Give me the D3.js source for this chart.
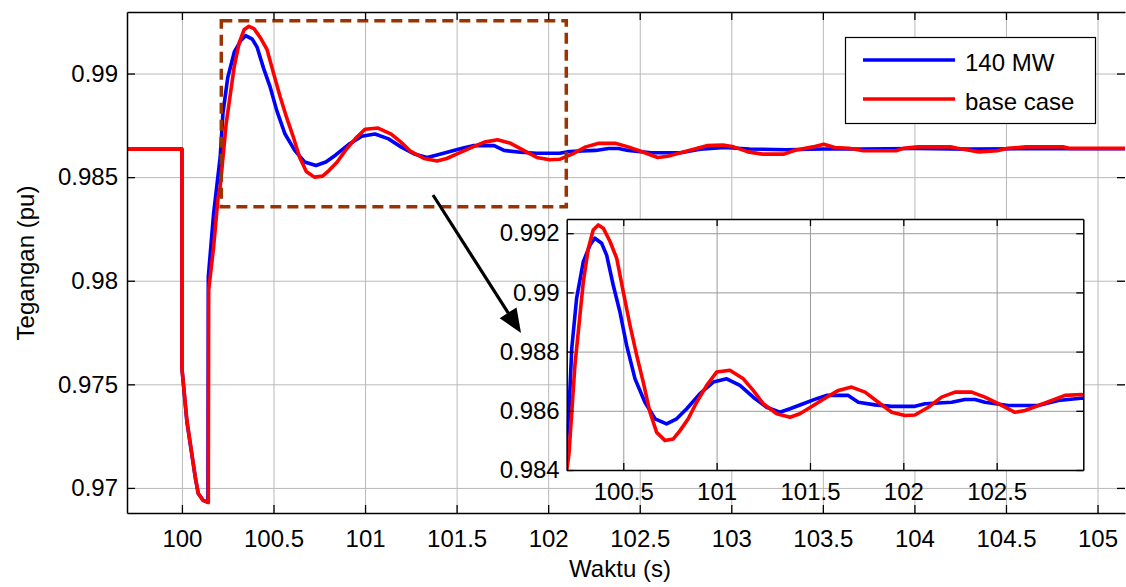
<!DOCTYPE html>
<html>
<head>
<meta charset="utf-8">
<script src="https://cdn.jsdelivr.net/npm/d3@7"></script>
<style>
  html, body { margin: 0; padding: 0; background: #fff; }
  svg { display: block; }
</style>
</head>
<body>
<svg id="chart" width="1126" height="587"></svg>
<script>
// ---------------- data ----------------
const seriesNames = ["140 MW", "base case"];

const time140 = [99.70, 100.0, 100.0, 100.027, 100.073, 100.089, 100.116, 100.142, 100.144, 100.173, 100.209,
  100.224, 100.25, 100.286, 100.322, 100.348, 100.384, 100.411, 100.446, 100.482, 100.518, 100.563, 100.616,
  100.670, 100.732, 100.786, 100.84, 100.911, 100.982, 101.054, 101.125, 101.196, 101.268, 101.339, 101.393,
  101.464, 101.536, 101.589, 101.705, 101.759, 101.848, 101.938, 102.062, 102.116, 102.259, 102.33, 102.384,
  102.437, 102.562, 102.723, 102.83, 102.964, 103.1, 103.3, 103.5, 103.7, 104.0, 104.3, 104.6, 105.15];
const volt140 = [0.98635, 0.98635, 0.97577, 0.9732, 0.9705, 0.96973, 0.9694, 0.9693, 0.98018, 0.98325, 0.98598,
  0.9881, 0.9898, 0.99104, 0.9916, 0.99183, 0.99166, 0.99126, 0.99025, 0.98934, 0.98821, 0.98708, 0.98629,
  0.98573, 0.98556, 0.98573, 0.98607, 0.98658, 0.98697, 0.98708, 0.98686, 0.98646, 0.98612, 0.98595, 0.98607,
  0.98624, 0.98641, 0.98652, 0.98652, 0.98629, 0.9862, 0.98615, 0.98615, 0.98624, 0.98629, 0.98638, 0.98638,
  0.98629, 0.98618, 0.98618, 0.98635, 0.98643, 0.98636, 0.98632, 0.98636, 0.98636, 0.98638, 0.98635, 0.98637, 0.98637];

const timeBase = [99.70, 100.0, 100.0, 100.027, 100.073, 100.089, 100.116, 100.144, 100.146, 100.173, 100.197,
  100.209, 100.241, 100.286, 100.313, 100.339, 100.366, 100.393, 100.429, 100.465, 100.5, 100.536, 100.572,
  100.607, 100.643, 100.679, 100.723, 100.768, 100.804, 100.848, 100.893, 100.947, 101.0, 101.071, 101.143,
  101.196, 101.25, 101.322, 101.393, 101.446, 101.518, 101.589, 101.652, 101.723, 101.795, 101.866, 101.938,
  102.009, 102.062, 102.134, 102.205, 102.277, 102.366, 102.437, 102.509, 102.598, 102.652, 102.723, 102.795,
  102.866, 102.954, 103.013, 103.091, 103.17, 103.288, 103.348, 103.446, 103.505, 103.565, 103.643, 103.722,
  103.9, 103.94, 104.018, 104.196, 104.235, 104.353, 104.452, 104.511, 104.609, 104.816, 104.846, 105.15];
const voltBase = [0.98635, 0.98635, 0.97577, 0.97326, 0.97052, 0.96973, 0.9694, 0.9693, 0.97954, 0.98163, 0.98398,
  0.98453, 0.98754, 0.99036, 0.99149, 0.99211, 0.99228, 0.99217, 0.99172, 0.99115, 0.99002, 0.98889, 0.98787,
  0.98697, 0.98595, 0.98527, 0.985, 0.98505, 0.98533, 0.98573, 0.98629, 0.98686, 0.98731, 0.98737, 0.98708,
  0.98669, 0.98624, 0.9859, 0.98578, 0.9859, 0.98618, 0.98646, 0.98669, 0.9868, 0.98663, 0.98629, 0.98595,
  0.98584, 0.98586, 0.98612, 0.98646, 0.98663, 0.98663, 0.98646, 0.98624, 0.98595, 0.98601, 0.98618, 0.98635,
  0.98652, 0.98655, 0.98646, 0.98622, 0.98611, 0.98611, 0.9863, 0.98646, 0.98659, 0.98643, 0.98639, 0.98627,
  0.98627, 0.98639, 0.98646, 0.98646, 0.98639, 0.98622, 0.98627, 0.98639, 0.98646, 0.98646, 0.98639, 0.98639];

const mainXTicks = [100, 100.5, 101, 101.5, 102, 102.5, 103, 103.5, 104, 104.5, 105];
const mainXLabels = ["100", "100.5", "101", "101.5", "102", "102.5", "103", "103.5", "104", "104.5", "105"];
const mainYTicks = [0.97, 0.975, 0.98, 0.985, 0.99];
const mainYLabels = ["0.97", "0.975", "0.98", "0.985", "0.99"];
const insetXTicks = [100.5, 101, 101.5, 102, 102.5];
const insetXLabels = ["100.5", "101", "101.5", "102", "102.5"];
const insetYTicks = [0.984, 0.986, 0.988, 0.99, 0.992];
const insetYLabels = ["0.984", "0.986", "0.988", "0.99", "0.992"];
const zoomBoxT = [100.215, 102.099];
const zoomBoxV = [0.98357, 0.99255];

const xLabelText = "Waktu (s)";
const yLabelText = "Tegangan (pu)";

// ---------------- setup ----------------
const FONT = "'Liberation Sans', Arial, Helvetica, sans-serif";
const svg = d3.select("#chart");
const colors = ["#0000ff", "#ff0000"];
const LW = 3.6;

const M = { left: 127, right: 1125, top: 12, bottom: 513 };
const x = d3.scaleLinear().domain([99.7, 105.15]).range([M.left, M.right]);
const y = d3.scaleLinear().domain([0.96879, 0.99297]).range([M.bottom, M.top]);

const I = { left: 566.7, right: 1083.3, top: 219, bottom: 470 };
const xi = d3.scaleLinear().domain([100.197, 102.964]).range([I.left, I.right]);
const yi = d3.scaleLinear().domain([0.984, 0.99248]).range([I.bottom, I.top]);

const dataSets = [
  d3.zip(time140, volt140),
  d3.zip(timeBase, voltBase)
];

function styleAxis(g, fs) {
  g.attr("font-family", FONT).attr("font-size", fs);
  g.selectAll("text").attr("fill", "#000");
  g.selectAll(".tick line").attr("stroke", "#000").attr("stroke-width", 1.3);
  g.select(".domain").attr("stroke", "#000").attr("stroke-width", 1.5);
}

// ---------------- main grid ----------------
const defs = svg.append("defs");
defs.append("clipPath").attr("id", "mainClip").append("rect")
  .attr("x", M.left).attr("y", M.top).attr("width", M.right - M.left).attr("height", M.bottom - M.top);
defs.append("clipPath").attr("id", "insetClip").append("rect")
  .attr("x", I.left).attr("y", I.top).attr("width", I.right - I.left).attr("height", I.bottom - I.top);

const gridX = svg.append("g").attr("transform", `translate(0,${M.bottom})`)
  .call(d3.axisBottom(x).tickValues(mainXTicks).tickSize(-(M.bottom - M.top)).tickFormat(""));
gridX.select(".domain").remove();
gridX.selectAll("line").attr("stroke", "#b9b9b9").attr("stroke-width", 1);

const gridY = svg.append("g").attr("transform", `translate(${M.left},0)`)
  .call(d3.axisLeft(y).tickValues(mainYTicks).tickSize(-(M.right - M.left)).tickFormat(""));
gridY.select(".domain").remove();
gridY.selectAll("line").attr("stroke", "#b9b9b9").attr("stroke-width", 1);

// ---------------- main lines ----------------
const lineMain = d3.line().x(d => x(d[0])).y(d => y(d[1]));
const mainLines = svg.append("g").attr("clip-path", "url(#mainClip)");
dataSets.forEach((ds, i) => {
  mainLines.append("path").datum(ds)
    .attr("d", lineMain)
    .attr("fill", "none")
    .attr("stroke", colors[i])
    .attr("stroke-width", LW)
    .attr("stroke-linejoin", "round");
});

// ---------------- dashed zoom box ----------------
svg.append("rect")
  .attr("x", x(zoomBoxT[0])).attr("y", y(zoomBoxV[1]))
  .attr("width", x(zoomBoxT[1]) - x(zoomBoxT[0]))
  .attr("height", y(zoomBoxV[0]) - y(zoomBoxV[1]))
  .attr("fill", "none")
  .attr("stroke", "#993300")
  .attr("stroke-width", 3.5)
  .attr("stroke-dasharray", "11,6");

// ---------------- arrow ----------------
const arrowStart = [433, 195];
const arrowTip = [521, 333];
(function drawArrow() {
  const dx = arrowTip[0] - arrowStart[0], dy = arrowTip[1] - arrowStart[1];
  const len = Math.hypot(dx, dy);
  const ux = dx / len, uy = dy / len;
  const hl = 24, hw = 10;
  const bx = arrowTip[0] - ux * hl, by = arrowTip[1] - uy * hl;
  svg.append("line")
    .attr("x1", arrowStart[0]).attr("y1", arrowStart[1])
    .attr("x2", bx + ux * 4).attr("y2", by + uy * 4)
    .attr("stroke", "#000").attr("stroke-width", 3.2);
  svg.append("path")
    .attr("d", `M${arrowTip[0]},${arrowTip[1]} L${bx - uy * hw},${by + ux * hw} L${bx + uy * hw},${by - ux * hw} Z`)
    .attr("fill", "#000");
})();

// ---------------- main axes ----------------
const axB = svg.append("g").attr("transform", `translate(0,${M.bottom})`)
  .call(d3.axisBottom(x).tickValues(mainXTicks).tickSize(-8).tickSizeOuter(0).tickPadding(17)
    .tickFormat((d, i) => mainXLabels[i]));
styleAxis(axB, 24);

const axL = svg.append("g").attr("transform", `translate(${M.left},0)`)
  .call(d3.axisLeft(y).tickValues(mainYTicks).tickSize(-8).tickSizeOuter(0).tickPadding(9)
    .tickFormat((d, i) => mainYLabels[i]));
styleAxis(axL, 24);

const axT = svg.append("g").attr("transform", `translate(0,${M.top})`)
  .call(d3.axisTop(x).tickValues(mainXTicks).tickSize(-8).tickSizeOuter(0).tickFormat(""));
styleAxis(axT, 24);

const axR = svg.append("g").attr("transform", `translate(${M.right},0)`)
  .call(d3.axisRight(y).tickValues(mainYTicks).tickSize(-8).tickSizeOuter(0).tickFormat(""));
styleAxis(axR, 24);
axR.select(".domain").remove();

// axis titles
svg.append("text")
  .attr("x", 620).attr("y", 577)
  .attr("text-anchor", "middle")
  .attr("font-family", FONT).attr("font-size", 24).attr("fill", "#000")
  .text(xLabelText);
svg.append("text")
  .attr("transform", `translate(34,263) rotate(-90)`)
  .attr("text-anchor", "middle")
  .attr("font-family", FONT).attr("font-size", 24).attr("fill", "#000")
  .text(yLabelText);

// ---------------- legend ----------------
const leg = svg.append("g");
leg.append("rect")
  .attr("x", 845.5).attr("y", 37.5).attr("width", 250).attr("height", 86)
  .attr("fill", "#fff").attr("stroke", "#000").attr("stroke-width", 1.2);
const legRows = [60, 99];
seriesNames.forEach((name, i) => {
  leg.append("line")
    .attr("x1", 863).attr("x2", 955).attr("y1", legRows[i]).attr("y2", legRows[i])
    .attr("stroke", colors[i]).attr("stroke-width", LW);
  leg.append("text")
    .attr("x", 965).attr("y", legRows[i] + 11)
    .attr("font-family", FONT).attr("font-size", 24).attr("fill", "#000")
    .text(name);
});

// ---------------- inset ----------------
const inset = svg.append("g");
inset.append("rect")
  .attr("x", I.left).attr("y", I.top).attr("width", I.right - I.left).attr("height", I.bottom - I.top)
  .attr("fill", "#fff");

const igx = inset.append("g").attr("transform", `translate(0,${I.bottom})`)
  .call(d3.axisBottom(xi).tickValues(insetXTicks).tickSize(-(I.bottom - I.top)).tickFormat(""));
igx.select(".domain").remove();
igx.selectAll("line").attr("stroke", "#9a9a9a").attr("stroke-width", 1);
const igy = inset.append("g").attr("transform", `translate(${I.left},0)`)
  .call(d3.axisLeft(yi).tickValues(insetYTicks).tickSize(-(I.right - I.left)).tickFormat(""));
igy.select(".domain").remove();
igy.selectAll("line").attr("stroke", "#9a9a9a").attr("stroke-width", 1);

const lineInset = d3.line().x(d => xi(d[0])).y(d => yi(d[1]));
const insetLines = inset.append("g").attr("clip-path", "url(#insetClip)");
dataSets.forEach((ds, i) => {
  insetLines.append("path").datum(ds)
    .attr("d", lineInset)
    .attr("fill", "none")
    .attr("stroke", colors[i])
    .attr("stroke-width", LW)
    .attr("stroke-linejoin", "round");
});

const iaB = inset.append("g").attr("transform", `translate(0,${I.bottom})`)
  .call(d3.axisBottom(xi).tickValues(insetXTicks).tickSize(-7).tickSizeOuter(0).tickPadding(13)
    .tickFormat((d, i) => insetXLabels[i]));
styleAxis(iaB, 24);
const iaL = inset.append("g").attr("transform", `translate(${I.left},0)`)
  .call(d3.axisLeft(yi).tickValues(insetYTicks).tickSize(-7).tickSizeOuter(0).tickPadding(7)
    .tickFormat((d, i) => insetYLabels[i]));
styleAxis(iaL, 24);
const iaT = inset.append("g").attr("transform", `translate(0,${I.top})`)
  .call(d3.axisTop(xi).tickValues(insetXTicks).tickSize(-7).tickSizeOuter(0).tickFormat(""));
styleAxis(iaT, 24);
const iaR = inset.append("g").attr("transform", `translate(${I.right},0)`)
  .call(d3.axisRight(yi).tickValues(insetYTicks).tickSize(-7).tickSizeOuter(0).tickFormat(""));
styleAxis(iaR, 24);
</script>
</body>
</html>
